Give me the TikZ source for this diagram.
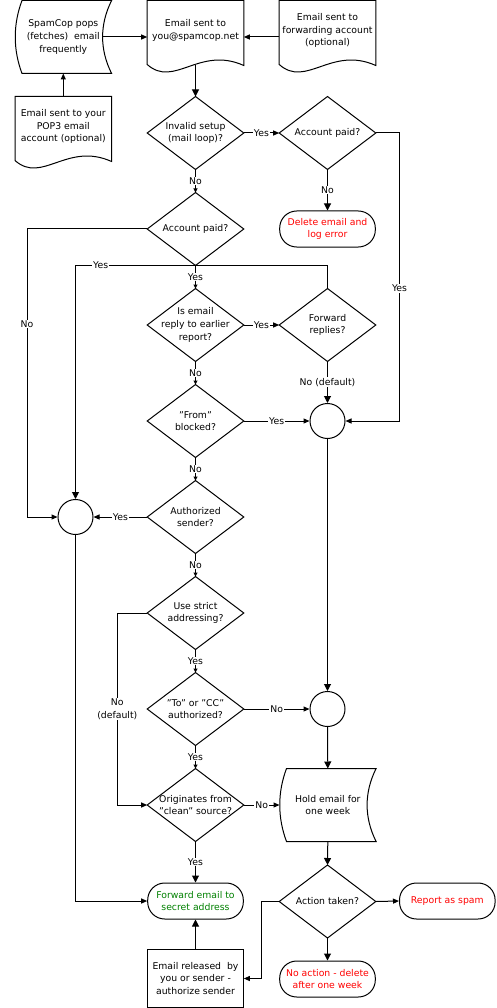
\documentclass[tikz,border=0pt]{standalone}
\usepackage{fontspec}
\setmainfont{DejaVu Sans}
\usetikzlibrary{arrows.meta,calc}
\definecolor{termred}{RGB}{255,0,0}
\definecolor{termgreen}{RGB}{0,128,0}
\newcommand\diamshape[1]{\draw[outl] (#1.north) -- (#1.east) -- (#1.south) -- (#1.west) -- cycle;}
\newcommand\docshape[1]{\draw[outl] ($(#1.south west)+(0,-9)$) -- (#1.north west) -- (#1.north east) -- ($(#1.south east)+(0,-8)$) .. controls ($(#1.south west)+(52,-28)$) and ($(#1.south west)+(27,15)$) .. cycle;}
\newcommand\storedshape[1]{\draw[outl] ($(#1.north west)+(7,0)$) -- (#1.north east) .. controls ($(#1.north east)+(-12,24)$) and ($(#1.south east)+(-12,-24)$) .. (#1.south east) -- ($(#1.south west)+(7,0)$) .. controls ($(#1.south west)+(-2,-24)$) and ($(#1.north west)+(-2,24)$) .. cycle;}
\begin{document}
\begin{tikzpicture}[x=1pt,y=-1pt,line width=1pt,
  base/.style={font=\fontsize{9.3}{12.6}\selectfont, align=center, inner sep=0pt},
  outl/.style={draw=black, line width=1pt},
  dec/.style={base, minimum width=95.6, minimum height=72},
  docbox/.style={base, minimum width=95.6, minimum height=72, text depth=15pt},
  storebox/.style={base, minimum width=95.6, minimum height=72},
  term/.style={base, draw, rounded corners=17, minimum width=95.6, minimum height=36},
  conn/.style={base, draw, circle, minimum size=35},
  procbox/.style={base, draw, minimum width=95.6, minimum height=58},
  lbl/.style={base, fill=white, inner sep=1pt},
  ab/.style={-{Triangle[length=7pt,width=7pt]}},
  am/.style={-{Triangle[length=6pt,width=5pt]}},
  as/.style={-{Triangle[length=4pt,width=4pt]}}]
\useasboundingbox (0,0) rectangle (496,1008);

% nodes
\node[storebox] (spam) at (63.3,37) {SpamCop pops\\(fetches) \ email\\frequently};
\node[docbox] (email) at (195.5,37) {Email sent to\\you@spamcop.net};
\node[docbox] (fwdacct) at (327.5,37) {Email sent to\\forwarding account\\(optional)};
\node[docbox] (pop3) at (63.3,133) {Email sent to your\\POP3 email\\account (optional)};
\node[dec] (d1) at (195.5,133) {Invalid setup\\(mail loop)?};
\node[dec] (d2) at (327.5,133) {Account paid?};
\node[term, text=termred] (del) at (327.5,229) {Delete email and\\log error};
\node[dec] (d3) at (195.5,229) {Account paid?};
\node[dec] (d4) at (195.5,325) {Is email\\reply to earlier\\report?};
\node[dec] (d5) at (327.5,325) {Forward\\replies?};
\node[conn] (r1) at (327.5,421) {};
\node[dec] (d6) at (195.5,421) {"From"\\blocked?};
\node[dec] (d7) at (195.5,517) {Authorized\\sender?};
\node[conn] (cL) at (75.5,517) {};
\node[dec] (d8) at (195.5,613) {Use strict\\addressing?};
\node[dec] (d9) at (195.5,709) {"To" or "CC"\\authorized?};
\node[conn] (r2) at (327.5,709) {};
\node[dec] (d10) at (195.5,805) {Originates from\\"clean" source?};
\node[storebox] (hold) at (327.8,805) {Hold email for\\one week};
\node[term, text=termgreen] (fwd) at (195.5,901) {Forward email to\\secret address};
\node[dec] (act) at (327.5,901.5) {Action taken?};
\node[term, text=termred] (rep) at (447.3,901) {Report as spam};
\node[term, text=termred] (noact) at (327.5,979) {No action - delete\\after one week};
\node[procbox] (rel) at (195.5,978.5) {Email released \ by\\you or sender -\\authorize sender};

% outlines
\storedshape{spam}
\storedshape{hold}
\docshape{email}
\docshape{fwdacct}
\docshape{pop3}
\foreach \d in {d1,d2,d3,d4,d5,d6,d7,d8,d9,d10,act} {\diamshape{\d}}

% bend points
\coordinate (spam-e) at ($(spam.east)+(-9,0)$);
\coordinate (email-b) at ($(email.south)+(0,-8)$);
\coordinate (b1) at (399.5,133);
\coordinate (b2) at (27,229);
\coordinate (b4) at (117.3,613);
\coordinate (b5) at (261,901.5);

% connectors
\draw[am] (spam-e) -- (email.west);
\draw[am] (fwdacct.west) -- (email.east);
\draw[am] (pop3.north) -- (spam.south);
\draw[ab] (email-b) -- (d1.north);
\draw[am] (d1.east) -- node[lbl]{Yes} (d2.west);
\draw[as] (d1.south) -- node[lbl]{No} (d3.north);
\draw[ab] (d2.south) -- node[lbl]{No} (del.north);
\draw[am] (d2.east) -- (b1) -- node[lbl,pos=0.54]{Yes} (b1 |- r1) -- (r1.east);
\draw[am] (d3.west) -- (b2) -- node[lbl,pos=0.33]{No} (b2 |- cL) -- (cL.west);
\draw[as] (d3.south) -- node[lbl]{Yes} (d4.north);
\draw[ab] (d5.north) -- (d5.north |- d3.south) -- node[lbl,pos=0.9]{Yes} (cL.north |- d3.south) -- (cL.north);
\draw[am] (d4.east) -- node[lbl]{Yes} (d5.west);
\draw[ab] (d5.south) -- node[lbl]{No (default)} (r1.north);
\draw[as] (d4.south) -- node[lbl]{No} (d6.north);
\draw[am] (d6.east) -- node[lbl]{Yes} (r1.west);
\draw[as] (d6.south) -- node[lbl]{No} (d7.north);
\draw[am] (d7.west) -- node[lbl]{Yes} (cL.east);
\draw[as] (d7.south) -- node[lbl]{No} (d8.north);
\draw[am] (d8.west) -- (b4) -- node[lbl]{No\\(default)} (b4 |- d10) -- (d10.west);
\draw[as] (d8.south) -- node[lbl]{Yes} (d9.north);
\draw[am] (d9.east) -- node[lbl]{No} (r2.west);
\draw[ab] (r1.south) -- (r2.north);
\draw[as] (d9.south) -- node[lbl]{Yes} (d10.north);
\draw[ab] (r2.south) -- (hold.north);
\draw[am] (d10.east) -- node[lbl]{No} (hold.west);
\draw[ab] (d10.south) -- node[lbl]{Yes} (fwd.north);
\draw[am] (cL.south) |- (fwd.west);
\draw[ab] (hold.south) -- (act.north);
\draw[ab] (rel.north) -- (fwd.south);
\draw[am] (act.east) -- (rep.west);
\draw[ab] (act.south) -- (noact.north);
\draw[am] (act.west) -- (b5) |- (rel.east);
\end{tikzpicture}
\end{document}
